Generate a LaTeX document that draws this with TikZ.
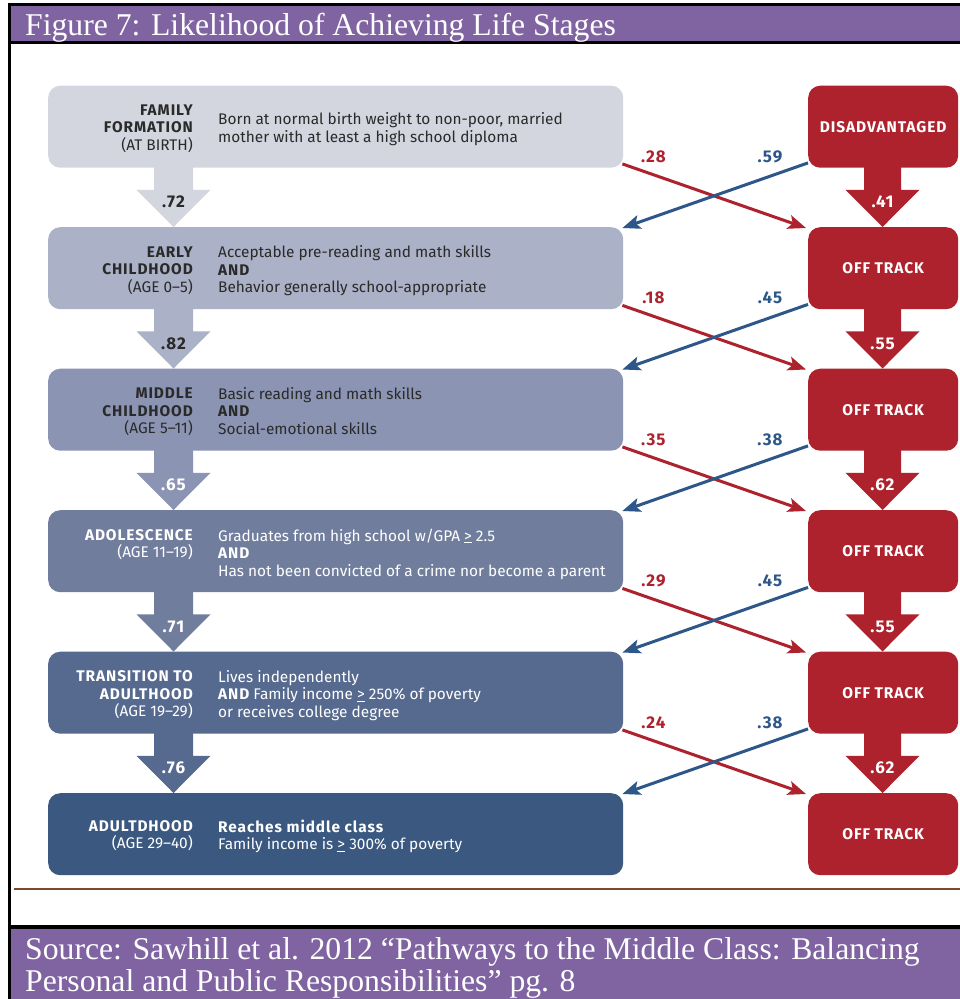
\documentclass[tikz,border=0pt]{standalone}
\usepackage{fontspec}
\setmainfont{Liberation Serif}
\newfontfamily\diag{Fira Sans}
\newfontfamily\diagb{Fira Sans}[LetterSpace=6]
\usetikzlibrary{arrows.meta,calc}
\definecolor{purp}{HTML}{8064A2}
\definecolor{cA}{HTML}{D3D6DF}
\definecolor{cB}{HTML}{ABB1C7}
\definecolor{cC}{HTML}{8B95B3}
\definecolor{cD}{HTML}{707D9D}
\definecolor{cE}{HTML}{56698E}
\definecolor{cF}{HTML}{3B5880}
\definecolor{offred}{HTML}{AD222D}
\definecolor{arrblue}{HTML}{2C5788}
\definecolor{txtdark}{HTML}{2A2A2A}
\definecolor{brownl}{HTML}{7B4A2E}
\newcommand\fs{\rule{0pt}{11.5pt}}
\newcommand\gequ{\underline{\smash{>}}}
\newcommand\B[1]{{\diagb\bfseries #1}}
\tikzset{
  lbox/.style={rounded corners=12pt, minimum width=575pt, minimum height=82pt, anchor=north west, inner sep=0pt},
  rbox/.style={rounded corners=12pt, fill=offred, minimum width=150pt, minimum height=82pt, anchor=north west, inner sep=0pt, text=white, font=\diagb\bfseries\fontsize{15.5}{17.5}\selectfont},
  lab/.style={anchor=north east, inner sep=0pt, align=right, font=\diag\fontsize{15.4}{17.5}\selectfont},
  desc/.style={anchor=north west, inner sep=0pt, align=left, font=\diag\fontsize{15.4}{17.5}\selectfont},
  num/.style={inner sep=0pt, font=\diagb\bfseries\fontsize{17}{17}\selectfont},
  redarr/.style={draw=offred, line width=3pt, -{Stealth[length=18pt,width=14pt,inset=4pt]}},
  bluearr/.style={draw=arrblue, line width=3pt, -{Stealth[length=18pt,width=14pt,inset=4pt]}},
  bartext/.style={anchor=base west, inner sep=0pt, text=white, font=\fontsize{31.7}{32}\selectfont}
}
\begin{document}
\begin{tikzpicture}[x=1pt,y=-1pt]
\useasboundingbox (0,0) rectangle (960,999);
% frame
\fill[white] (0,0) rectangle (960,999);
\fill[purp] (11,6) rectangle (960,41);
\fill[black] (8,3) rectangle (960,6);
\fill[black] (8,41) rectangle (960,44);
\fill[black] (8,3) rectangle (11,999);
\fill[black] (8,925) rectangle (960,929);
\fill[purp] (11,929) rectangle (960,999);
\draw[brownl, line width=2pt] (14,889) -- (960,889);
\node[bartext] (title) at (25,35) {Figure 7: Likelihood of Achieving Life Stages};
\node[bartext] (src1) at (25,959) {Source: Sawhill et al. 2012 “Pathways to the Middle Class: Balancing};
\node[bartext] (src2) at (25,991) {Personal and Public Responsibilities” pg. 8};

% left boxes
\node[lbox, fill=cA] (L1) at (48,85.5) {};
\node[lbox, fill=cB] (L2) at (48,227) {};
\node[lbox, fill=cC] (L3) at (48,368.5) {};
\node[lbox, fill=cD] (L4) at (48,510) {};
\node[lbox, fill=cE] (L5) at (48,651.5) {};
\node[lbox, fill=cF] (L6) at (48,793) {};
% right boxes
\node[rbox] (R1) at (808,85.5) {DISADVANTAGED};
\node[rbox] (R2) at (808,227) {OFF TRACK};
\node[rbox] (R3) at (808,368.5) {OFF TRACK};
\node[rbox] (R4) at (808,510) {OFF TRACK};
\node[rbox] (R5) at (808,651.5) {OFF TRACK};
\node[rbox] (R6) at (808,793) {OFF TRACK};

% texts
\node[lab, text=txtdark] (t1a) at ($(L1.north west)+(145,18)$) {\fs\B{FAMILY}\\\B{FORMATION}\\(AT BIRTH)};
\node[desc, text=txtdark] (t1b) at ($(L1.north west)+(170,27)$) {\fs Born at normal birth weight to non-poor, married\\mother with at least a high school diploma};
\node[lab, text=txtdark] (t2a) at ($(L2.north west)+(145,18.5)$) {\fs\B{EARLY}\\\B{CHILDHOOD}\\(AGE 0–5)};
\node[desc, text=txtdark] (t2b) at ($(L2.north west)+(170,18.5)$) {\fs Acceptable pre-reading and math skills\\\B{AND}\\Behavior generally school-appropriate};
\node[lab, text=txtdark] (t3a) at ($(L3.north west)+(145,18.5)$) {\fs\B{MIDDLE}\\\B{CHILDHOOD}\\(AGE 5–11)};
\node[desc, text=txtdark] (t3b) at ($(L3.north west)+(170,18.5)$) {\fs Basic reading and math skills\\\B{AND}\\Social-emotional skills};
\node[lab, text=white] (t4a) at ($(L4.north west)+(145,18.5)$) {\fs\B{ADOLESCENCE}\\(AGE 11–19)};
\node[desc, text=white] (t4b) at ($(L4.north west)+(170,18.5)$) {\fs Graduates from high school w/GPA \gequ\ 2.5\\\B{AND}\\Has not been convicted of a crime nor become a parent};
\node[lab, text=white] (t5a) at ($(L5.north west)+(145,18.5)$) {\fs\B{TRANSITION TO}\\\B{ADULTHOOD}\\(AGE 19–29)};
\node[desc, text=white] (t5b) at ($(L5.north west)+(170,18.5)$) {\fs Lives independently\\\B{AND} Family income \gequ\ 250\% of poverty\\or receives college degree};
\node[lab, text=white] (t6a) at ($(L6.north west)+(145,26.5)$) {\fs\B{ADULTDHOOD}\\(AGE 29–40)};
\node[desc, text=white] (t6b) at ($(L6.north west)+(170,26.5)$) {\fs\B{Reaches middle class}\\Family income is \gequ\ 300\% of poverty};

% arrows
\foreach \i/\j/\cL/\cT/\nA/\nB/\nC/\nD in {1/2/cA/txtdark/.72/.41/.28/.59, 2/3/cB/txtdark/.82/.55/.18/.45, 3/4/cC/white/.65/.62/.35/.38, 4/5/cD/white/.71/.55/.29/.45, 5/6/cE/white/.76/.62/.24/.38}{
  \fill[\cL] ($(L\i.south west)+(106,-1)$) -- ++(0,23) -- ++(-17.5,0) -- ($(L\j.north west)+(125.5,0)$) -- ($(L\i.south west)+(162.5,22)$) -- ++(-17.5,0) -- ++(0,-23) -- cycle;
  \node[num, text=\cT] (dl\i) at ($(L\i.south west)+(125.5,34)$) {\nA};
  \fill[offred] ($(R\i.south west)+(56,-1)$) -- ++(0,23) -- ++(-18.5,0) -- ($(R\j.north west)+(74.5,0)$) -- ($(R\i.south west)+(111.5,22)$) -- ++(-18.5,0) -- ++(0,-23) -- cycle;
  \node[num, text=white] (dr\i) at ($(R\i.south west)+(74.5,34)$) {\nB};
  \draw[redarr] ($(L\i.south east)+(-1,-4)$) -- ($(R\j.north west)+(-2,1)$);
  \draw[bluearr] ($(R\i.south west)+(0,-5)$) -- ($(L\j.north east)+(-1,1)$);
  \node[num, text=offred] (xr\i) at ($(L\i.south east)+(30,-11.5)$) {\nC};
  \node[num, text=arrblue] (xb\i) at ($(R\i.south west)+(-38,-11.5)$) {\nD};
}
\end{tikzpicture}
\end{document}
